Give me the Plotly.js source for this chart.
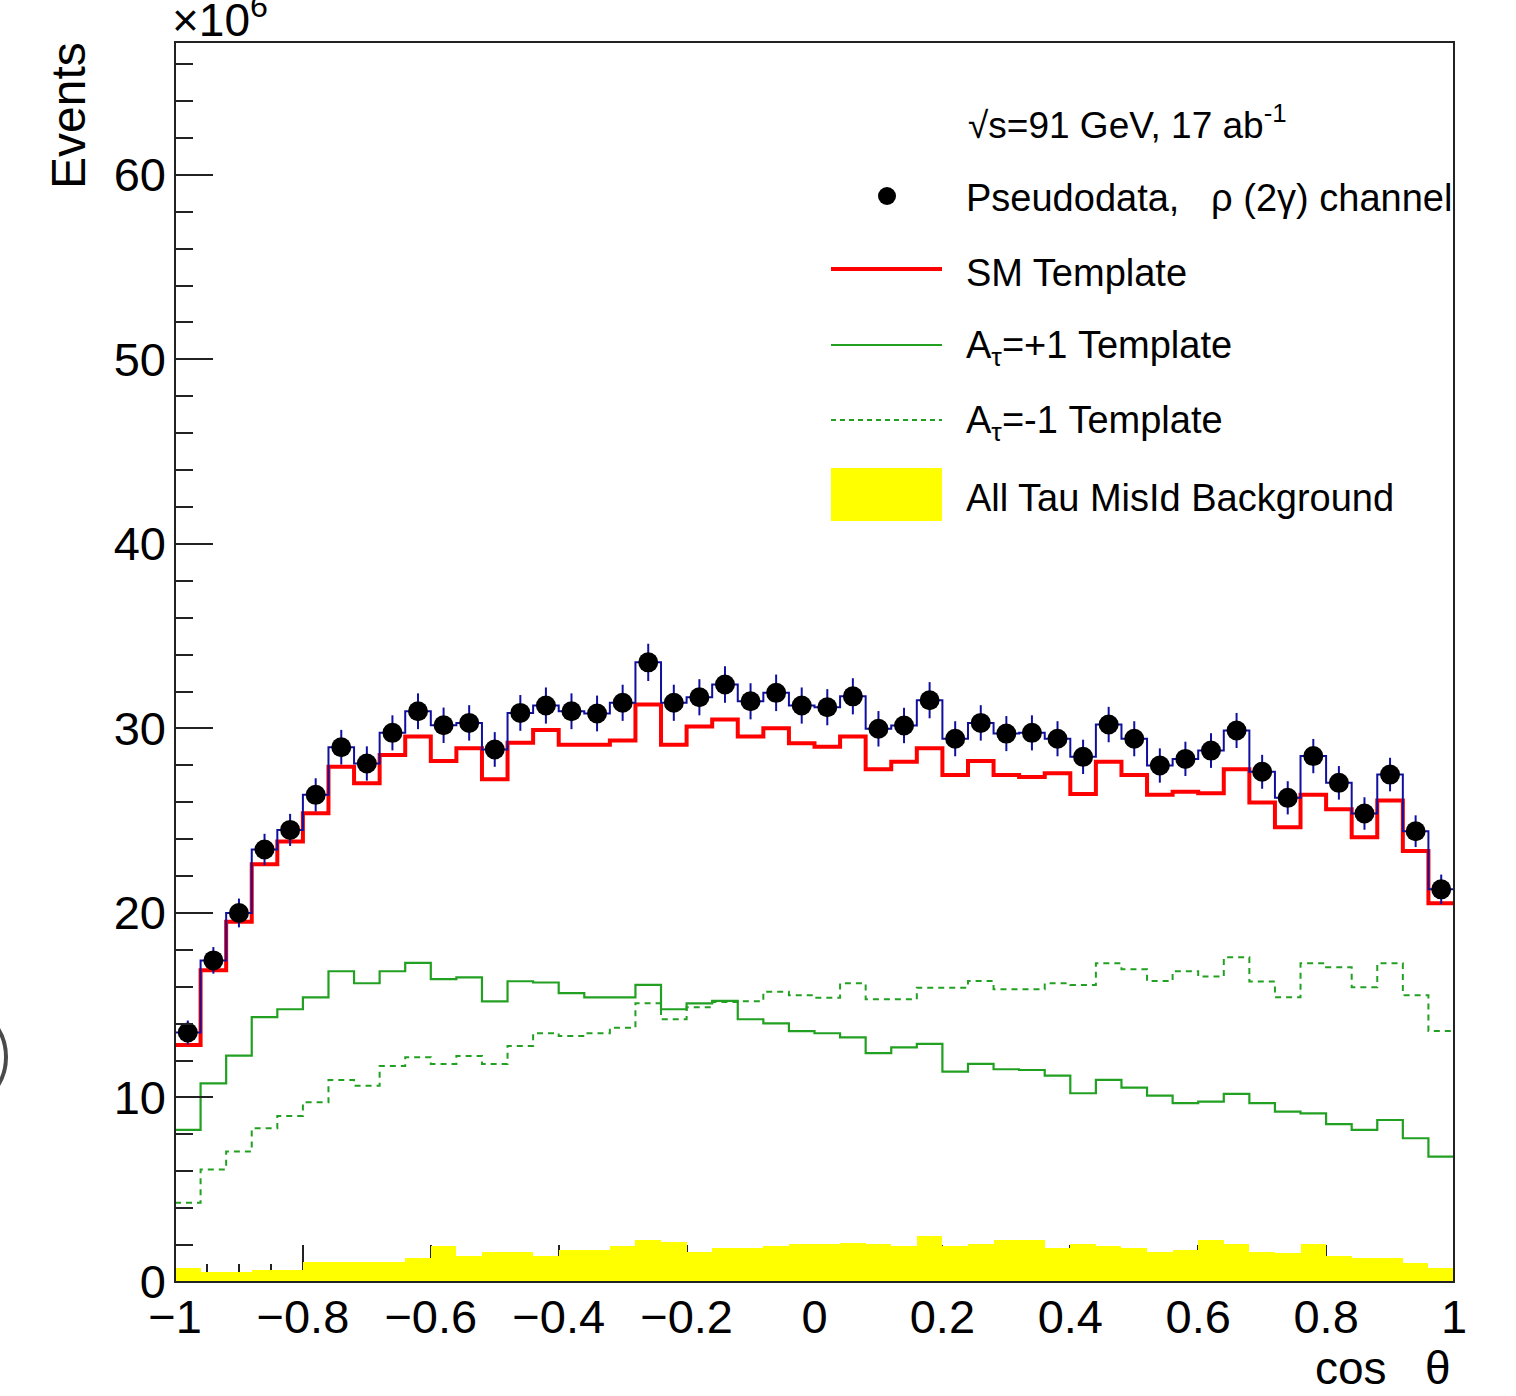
<!DOCTYPE html>
<html>
<head>
<meta charset="utf-8">
<script src="https://cdn.plot.ly/plotly-3.0.1.min.js"></script>
<style>
  html, body { margin: 0; padding: 0; background: #ffffff; }
  #chart { width: 1516px; height: 1396px; }
</style>
</head>
<body>
<div id="chart"></div>
<script>
// ---------------- data (units of 10^6 events) ----------------
const xLow = -1;
const xHigh = 1;
const nBins = 50;

const pseudodata = [13.52,17.43,20.0,23.44,24.5,26.4,28.98,28.1,29.76,30.93,
                    30.17,30.3,28.86,30.84,31.24,30.93,30.81,31.39,33.58,31.39,
                    31.69,32.38,31.47,31.93,31.24,31.15,31.74,29.98,30.16,31.53,
                    29.44,30.30,29.72,29.76,29.44,28.46,30.21,29.44,27.99,28.35,
                    28.80,29.89,27.65,26.24,28.50,27.05,25.39,27.50,24.43,21.28];

const pseudodataErr = [0.65,0.72,0.78,0.85,0.87,0.90,0.94,0.93,0.95,0.97,
                       0.96,0.96,0.94,0.97,0.98,0.97,0.97,0.98,1.01,0.98,
                       0.98,0.99,0.98,0.99,0.98,0.98,0.98,0.96,0.96,0.98,
                       0.95,0.96,0.95,0.95,0.95,0.93,0.96,0.95,0.93,0.93,
                       0.94,0.95,0.92,0.90,0.93,0.91,0.88,0.91,0.86,0.80];

const smTemplate = [12.85,16.9,19.53,22.64,23.87,25.4,27.93,27.03,28.56,29.56,
                    28.24,28.93,27.25,29.23,29.92,29.11,29.11,29.34,31.3,29.11,
                    30.1,30.49,29.56,30.01,29.2,29.01,29.56,27.79,28.2,28.93,
                    27.48,28.24,27.48,27.37,27.57,26.45,28.2,27.48,26.4,26.57,
                    26.49,27.79,25.98,24.65,26.4,25.62,24.1,26.1,23.36,20.53];

const aTauPlus = [8.24,10.76,12.27,14.35,14.78,15.43,16.84,16.19,16.84,17.29,
                  16.41,16.51,15.21,16.3,16.23,15.66,15.43,15.43,16.1,14.78,
                  15.1,15.23,14.24,14.02,13.6,13.48,13.26,12.4,12.72,12.9,
                  11.4,11.82,11.53,11.49,11.18,10.23,10.95,10.53,10.1,9.69,
                  9.77,10.19,9.69,9.23,9.14,8.56,8.24,8.78,7.79,6.79];

const aTauMinus = [4.3,6.1,7.07,8.33,9.0,9.74,10.95,10.64,11.71,12.18,
                   11.82,12.25,11.82,12.79,13.48,13.33,13.48,13.78,15.1,14.24,
                   14.89,15.18,15.21,15.73,15.54,15.41,16.19,15.32,15.32,15.95,
                   15.95,16.31,15.87,15.87,16.19,16.1,17.27,16.95,16.31,16.84,
                   16.55,17.6,16.28,15.43,17.27,17.06,15.98,17.27,15.54,13.6];

const misIdBackground = [0.74,0.56,0.56,0.65,0.65,1.07,1.07,1.07,1.07,1.28,
                         1.95,1.41,1.63,1.63,1.41,1.73,1.73,1.95,2.28,2.17,
                         1.64,1.83,1.83,1.95,2.06,2.06,2.14,2.06,1.95,2.5,
                         1.95,2.06,2.28,2.28,1.86,2.06,1.95,1.83,1.64,1.73,
                         2.28,2.06,1.64,1.55,2.06,1.41,1.3,1.3,1.01,0.78];

const xTickLabels = ['\u22121','\u22120.8','\u22120.6','\u22120.4','\u22120.2','0','0.2','0.4','0.6','0.8','1'];
const xTickVals = [-1,-0.8,-0.6,-0.4,-0.2,0,0.2,0.4,0.6,0.8,1];
const yTickVals = [0,10,20,30,40,50,60];

const legendHeader = '\u221As=91 GeV, 17 ab<sup>-1</sup>';
const legendLabels = ['Pseudodata,\u00a0\u00a0\u00a0\u03C1 (2\u03B3) channel',
                      'SM Template',
                      'A<sub>\u03C4</sub>=+1 Template',
                      'A<sub>\u03C4</sub>=-1 Template',
                      'All Tau MisId Background'];

// ---------------- binning helpers ----------------
const binWidth = (xHigh - xLow) / nBins;
const binEdges = [];
for (let i = 0; i <= nBins; i++) binEdges.push(+(xLow + i * binWidth).toFixed(6));
const binCenters = [];
for (let i = 0; i < nBins; i++) binCenters.push(+(xLow + (i + 0.5) * binWidth).toFixed(6));
function stepY(vals) { return vals.concat([vals[vals.length - 1]]); }

// ---------------- styles ----------------
const FONT = '"Liberation Sans", Arial, Helvetica, sans-serif';
const BLUE = '#1010a0';
const RED = '#ff0000';
const GREEN = '#22a022';
const YELLOW = '#ffff00';
const AXIS = '#222222';

const traces = [
  {
    type: 'bar', x: binCenters, y: misIdBackground, width: binWidth,
    marker: { color: YELLOW, line: { width: 0 } },
    hoverinfo: 'skip', showlegend: false
  },
  {
    type: 'scatter', mode: 'lines', x: binEdges, y: stepY(aTauMinus),
    line: { shape: 'hv', color: GREEN, width: 2, dash: '6px,5px' },
    hoverinfo: 'skip', showlegend: false
  },
  {
    type: 'scatter', mode: 'lines', x: binEdges, y: stepY(aTauPlus),
    line: { shape: 'hv', color: GREEN, width: 2.2 },
    hoverinfo: 'skip', showlegend: false
  },
  {
    type: 'scatter', mode: 'lines', x: binEdges, y: stepY(smTemplate),
    line: { shape: 'hv', color: RED, width: 4 },
    hoverinfo: 'skip', showlegend: false
  },
  {
    type: 'scatter', mode: 'lines', x: binEdges, y: stepY(pseudodata),
    line: { shape: 'hv', color: BLUE, width: 2 },
    hoverinfo: 'skip', showlegend: false
  },
  {
    type: 'scatter', mode: 'markers', x: binCenters, y: pseudodata,
    marker: { color: '#000000', size: 20, line: { width: 0 } },
    error_y: { type: 'data', array: pseudodataErr, visible: true, color: BLUE, thickness: 2, width: 0 },
    hoverinfo: 'skip', showlegend: false
  }
];

// plot area in pixels: x 175..1454, y 42..1282
const L = 175, R = 1454, T = 42, B = 1282;
function px(x) { return (x - L) / (R - L); }
function py(y) { return (B - y) / (B - T); }

const legendRowsY = [198, 273, 348, 423, 498];
const annotations = [
  { text: 'Events', textangle: -90, x: px(68), y: py(116), xref: 'paper', yref: 'paper',
    xanchor: 'center', yanchor: 'middle', showarrow: false, font: { family: FONT, size: 48, color: '#000' } },
  { text: 'cos\u00a0\u00a0\u00a0\u03B8', x: px(1453), y: py(1368), xref: 'paper', yref: 'paper',
    xanchor: 'right', yanchor: 'middle', showarrow: false, font: { family: FONT, size: 46, color: '#000' } },
  { text: '\u00D710<sup>6</sup>', x: px(170), y: 1, yshift: -6, xref: 'paper', yref: 'paper',
    xanchor: 'left', yanchor: 'bottom', showarrow: false, font: { family: FONT, size: 46, color: '#000' } },
  { text: legendHeader, x: px(966), y: py(123), xref: 'paper', yref: 'paper',
    xanchor: 'left', yanchor: 'middle', showarrow: false, font: { family: FONT, size: 37, color: '#000' } }
];
legendLabels.forEach((t, i) => {
  annotations.push({ text: t, x: px(964), y: py(legendRowsY[i]), xref: 'paper', yref: 'paper',
    xanchor: 'left', yanchor: 'middle', showarrow: false, font: { family: FONT, size: 38, color: '#000' } });
});

const shapes = [
  // frame
  { type: 'rect', xref: 'paper', yref: 'paper', x0: 0, x1: 1, y0: 0, y1: 1,
    line: { color: AXIS, width: 2 }, fillcolor: 'rgba(0,0,0,0)', layer: 'above' },
  // legend keys
  { type: 'circle', xref: 'paper', yref: 'paper', x0: px(878), x1: px(896), y0: py(205), y1: py(187),
    fillcolor: '#000', line: { width: 0 } },
  { type: 'line', xref: 'paper', yref: 'paper', x0: px(831), x1: px(942), y0: py(269), y1: py(269),
    line: { color: RED, width: 4 } },
  { type: 'line', xref: 'paper', yref: 'paper', x0: px(831), x1: px(942), y0: py(345), y1: py(345),
    line: { color: GREEN, width: 2 } },
  { type: 'line', xref: 'paper', yref: 'paper', x0: px(831), x1: px(942), y0: py(420), y1: py(420),
    line: { color: GREEN, width: 2, dash: '5px,4px' } },
  { type: 'rect', xref: 'paper', yref: 'paper', x0: px(831), x1: px(942), y0: py(521), y1: py(468),
    fillcolor: YELLOW, line: { width: 0 } },
  // stray screen artifact at the left edge of the reference
  { type: 'circle', xref: 'paper', yref: 'paper', x0: px(-102), x1: px(6), y0: py(1111), y1: py(1003),
    line: { color: '#4a4a4a', width: 4 }, fillcolor: 'rgba(0,0,0,0)' }
];

const layout = {
  width: 1516, height: 1396,
  margin: { l: L, r: 1516 - R, t: T, b: 1396 - B, pad: 0 },
  paper_bgcolor: '#ffffff', plot_bgcolor: '#ffffff',
  showlegend: false,
  bargap: 0,
  font: { family: FONT, color: '#000' },
  xaxis: {
    range: [xLow, xHigh], showgrid: false, zeroline: false, showline: false,
    tickmode: 'array', tickvals: xTickVals, ticktext: xTickLabels,
    ticks: 'inside', ticklen: 37, tickwidth: 2, tickcolor: AXIS,
    minor: { dtick: 0.05, tick0: -1, ticks: 'inside', ticklen: 18, tickwidth: 2, tickcolor: AXIS, showgrid: false },
    tickfont: { family: FONT, size: 47, color: '#000' },
    ticklabelstandoff: 3,
    layer: 'below traces'
  },
  yaxis: {
    range: [0, 67.2], showgrid: false, zeroline: false, showline: false,
    tickmode: 'array', tickvals: yTickVals, ticktext: yTickVals.map(String),
    ticks: 'inside', ticklen: 38, tickwidth: 2, tickcolor: AXIS,
    minor: { dtick: 2, tick0: 0, ticks: 'inside', ticklen: 18, tickwidth: 2, tickcolor: AXIS, showgrid: false },
    tickfont: { family: FONT, size: 47, color: '#000' },
    ticklabelstandoff: 8,
    layer: 'above traces'
  },
  annotations: annotations,
  shapes: shapes
};

Plotly.newPlot('chart', traces, layout, { staticPlot: true, displayModeBar: false });
</script>
</body>
</html>
